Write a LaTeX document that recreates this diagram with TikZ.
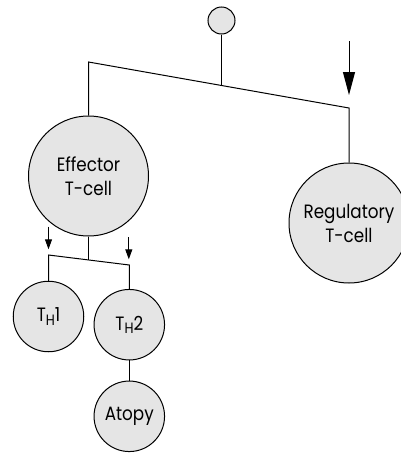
\documentclass[tikz,border=0pt]{standalone}
\usepackage{fontspec}
\setmainfont{Poppins}[FakeStretch=0.87]
\usetikzlibrary{arrows.meta}
\newcommand\thsub[1]{T\raisebox{-3.5pt}{\fontsize{15}{15}\selectfont H}#1}
\tikzset{
  cell/.style={circle,draw,fill=black!10,line width=1pt,inner sep=0pt,align=center,
    font=\fontsize{19.3}{24}\selectfont},
  bigcell/.style={cell,minimum size=120pt},
  smallcell/.style={cell,minimum size=70.5pt},
  link/.style={line width=1pt},
  bigarr/.style={line width=1pt,-{Triangle[length=23pt,width=12pt]}},
  smallarr/.style={line width=1pt,-{Triangle[length=10pt,width=7pt]}}
}
\begin{document}
\begin{tikzpicture}[x=1pt,y=-1pt]
\clip (0,0) rectangle (401,453);
\useasboundingbox (0,0) rectangle (401,453);
\node[cell,minimum size=27pt] (top) at (221.5,20.5) {};
\node[bigcell] (eff) at (88.5,176) {Effector\\T-cell};
\node[bigcell] (reg) at (349,223) {Regulatory\\T-cell};
\node[smallcell] (th1) at (48.5,316.5) {\thsub{1}};
\node[smallcell] (th2) at (129.3,324.7) {\thsub{2}};
\node[smallcell] (atopy) at (129.3,416.3) {Atopy};
\coordinate (jl) at (88.5,62);
\coordinate (jr) at (349,108);
\coordinate (jm) at (221.5,85.4);
\coordinate (kl) at (48.5,255);
\coordinate (kr) at (129.3,265);
\coordinate (km) at (88.5,259.6);
\draw[link] (top) -- (jm);
\draw[link] (eff) -- (jl) -- (jr) -- (reg);
\draw[link] (eff) -- (km);
\draw[link] (th1) -- (kl) -- (kr) -- (th2);
\draw[link] (th2) -- (atopy);
\coordinate (a1s) at (349,41);
\coordinate (a1e) at (349,95);
\coordinate (a2s) at (48.5,226.7);
\coordinate (a2e) at (48.5,249.3);
\coordinate (a3s) at (128.8,237);
\coordinate (a3e) at (128.8,259.3);
\draw[bigarr] (a1s) -- (a1e);
\draw[smallarr] (a2s) -- (a2e);
\draw[smallarr] (a3s) -- (a3e);
\end{tikzpicture}
\end{document}
